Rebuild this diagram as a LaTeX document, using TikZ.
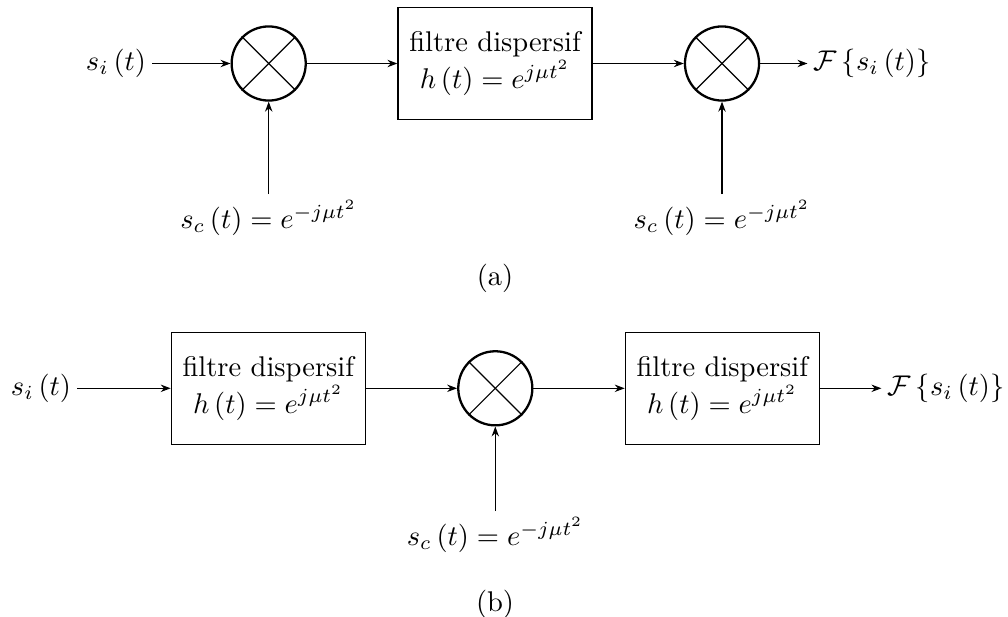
\documentclass[tikz,border=0pt]{standalone}
\usetikzlibrary{arrows.meta}
\begin{document}
\begin{tikzpicture}[x=0.3509pt,y=-0.3509pt,
  mixer/.style={circle, draw, thick, minimum size=26pt, inner sep=0pt},
  filterbox/.style={rectangle, draw, minimum width=68.1pt, minimum height=39.3pt, align=center, inner sep=3pt},
  sig/.style={-{Stealth[length=3.5pt,width=2.6pt]}},
  crossline/.style={line width=0.4pt},
  lbl/.style={inner sep=2pt}]
\useasboundingbox (0,0) rectangle (1008,616);
% ---------- (a) ----------
\node[lbl] (si1) at (116,63.5) {$s_i\left(t\right)$};
\node[mixer] (m1) at (268.7,63.5) {};
\node[filterbox] (f1) at (495,63.5) {filtre dispersif\\[1pt]$h\left(t\right)=e^{j\mu t^2}$};
\node[mixer] (m2) at (722,63.5) {};
\node[lbl] (out1) at (872,63.5) {$\mathcal{F}\left\{s_i\left(t\right)\right\}$};
\node[lbl] (sc1) at (268.7,218) {$s_c\left(t\right)=e^{-j\mu t^2}$};
\node[lbl] (sc2) at (722,218) {$s_c\left(t\right)=e^{-j\mu t^2}$};
\node (capa) at (495,278) {(a)};
\foreach \m in {m1,m2}{
  \draw[crossline] (\m.45) -- (\m.225);
  \draw[crossline] (\m.135) -- (\m.315);
}
\draw[sig] (si1) -- (m1);
\draw[sig] (m1) -- (f1);
\draw[sig] (f1) -- (m2);
\draw[sig] (m2) -- (out1);
\draw[sig] (sc1) -- (m1);
\draw[sig] (sc2) -- (m2);
% ---------- (b) ----------
\node[lbl] (si2) at (41,388.3) {$s_i\left(t\right)$};
\node[filterbox] (f2) at (268.3,388.3) {filtre dispersif\\[1pt]$h\left(t\right)=e^{j\mu t^2}$};
\node[mixer] (m3) at (495.3,388.3) {};
\node[filterbox] (f3) at (722.3,388.3) {filtre dispersif\\[1pt]$h\left(t\right)=e^{j\mu t^2}$};
\node[lbl] (out2) at (946,388.3) {$\mathcal{F}\left\{s_i\left(t\right)\right\}$};
\node[lbl] (sc3) at (495.3,535) {$s_c\left(t\right)=e^{-j\mu t^2}$};
\node (capb) at (495,604) {(b)};
\draw[crossline] (m3.45) -- (m3.225);
\draw[crossline] (m3.135) -- (m3.315);
\draw[sig] (si2) -- (f2);
\draw[sig] (f2) -- (m3);
\draw[sig] (m3) -- (f3);
\draw[sig] (f3) -- (out2);
\draw[sig] (sc3) -- (m3);
\end{tikzpicture}
\end{document}
